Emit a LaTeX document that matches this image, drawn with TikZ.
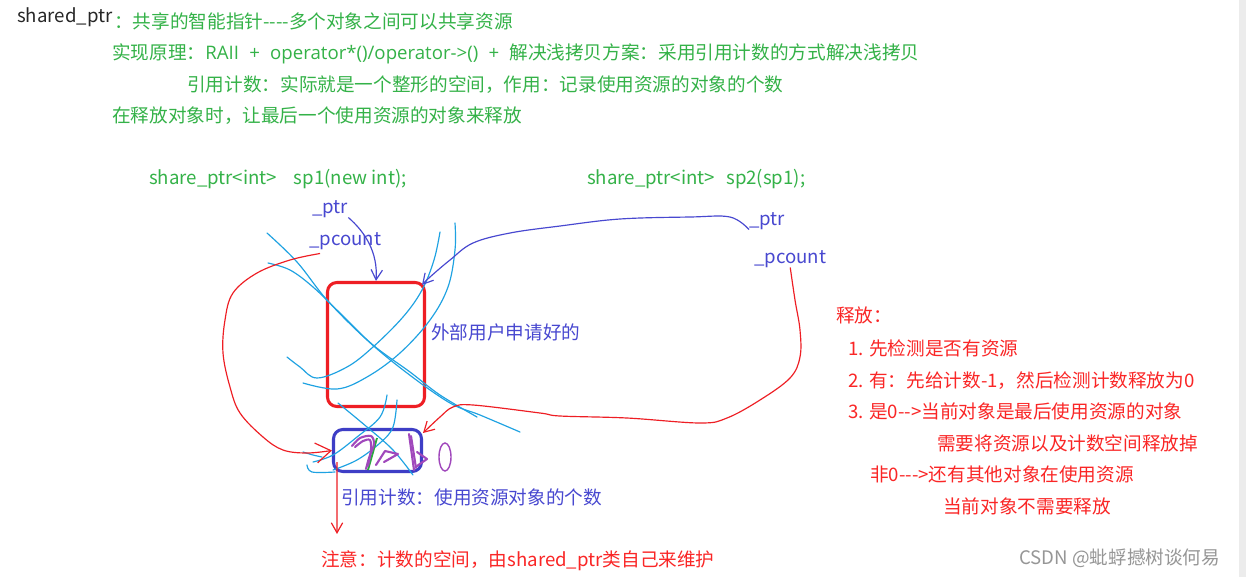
\documentclass[tikz,border=0pt]{standalone}
\usepackage{fontspec}
\usepackage{tikz}
\usetikzlibrary{arrows.meta}
\newfontfamily\cjk{Noto Sans CJK SC}
\newfontfamily\lat{Open Sans}
\definecolor{notegreen}{RGB}{52,178,72}
\definecolor{noteblue}{RGB}{72,72,208}
\definecolor{notered}{RGB}{250,38,38}
\definecolor{penred}{RGB}{238,30,36}
\definecolor{penblue}{RGB}{62,62,198}
\definecolor{pencyan}{RGB}{30,162,226}
\definecolor{penpurple}{RGB}{160,72,188}
\definecolor{pengreen}{RGB}{40,170,60}
\definecolor{markgray}{RGB}{150,150,150}
\definecolor{stripgray}{RGB}{236,236,236}
\newcommand{\gap}{\hspace{0.55em}}

\begin{document}
\begin{tikzpicture}[
        x=0.03cm, y=-0.03cm,
        txt/.style={anchor=base west, inner sep=0pt, font=\cjk\fontsize{15.9}{19}\selectfont},
        gtxt/.style={txt, text=notegreen},
        btxt/.style={txt, text=noteblue},
        rtxt/.style={txt, text=notered},
        heapbox/.style={draw=penred, line width=2.6pt, rounded corners=8pt, minimum width=2.91cm, minimum height=3.72cm},
        countbox/.style={draw=penblue, line width=2.6pt, rounded corners=8pt, minimum width=2.64cm, minimum height=1.26cm},
        scrib/.style={pencyan, line width=1pt, line cap=round},
        purp/.style={penpurple, line width=1.8pt, line cap=round, line join=round},
        barr/.style={noteblue, line width=1pt, -{Straight Barb[length=3mm,width=3.4mm]}},
        rarr/.style={penred, line width=1pt, -{Straight Barb[length=3mm,width=3.4mm]}},
        rarrbig/.style={penred, line width=1pt, -{Straight Barb[length=4.5mm,width=6mm]}}
    ]
    \useasboundingbox (0,0) rectangle (1246,577);
    \fill[white] (0,0) rectangle (1246,577);
    \fill[stripgray] (1239,0) rectangle (1246,577);

    % header notes
    \node[txt, text=black!85] (title) at (17,22) {shared\_ptr};
    \node[gtxt] (intro) at (114,28) {：共享的智能指针----多个对象之间可以共享资源};
    \node[gtxt] (principle) at (112,59) {实现原理：{\lat RAII\gap+\gap operator*()/operator->()\gap+\gap}解决浅拷贝方案：采用引用计数的方式解决浅拷贝};
    \node[gtxt] (refcount) at (187,91) {引用计数：实际就是一个整形的空间，作用：记录使用资源的对象的个数};
    \node[gtxt] (release) at (112,122) {在释放对象时，让最后一个使用资源的对象来释放};

    % the two objects
    \node[gtxt] (sp1) at (149,184) {share\_ptr<int>\hspace{0.9em}sp1(new int);};
    \node[gtxt] (sp2) at (587,184) {share\_ptr<int>\hspace{0.6em}sp2(sp1);};
    \node[btxt] (ptr1) at (312,213) {\_ptr};
    \node[btxt] (pcount1) at (309,245) {\_pcount};
    \node[btxt] (ptr2) at (749,225) {\_ptr};
    \node[btxt] (pcount2) at (754,263) {\_pcount};

    % resource and counter
    \node[heapbox] (heap) at (376,344.5) {};
    \node[btxt] (userres) at (431,339) {外部用户申请好的};
    \node[countbox] (count) at (377.5,450.5) {};
    \node[btxt] (countnote) at (341,504) {引用计数：使用资源对象的个数};
    \node[rtxt] (note) at (321,566) {注意：计数的空间，由shared\_ptr类自己来维护};

    % release steps
    \node[rtxt] (free) at (836,322) {释放：};
    \node[rtxt] (step1) at (848,355) {1. 先检测是否有资源};
    \node[rtxt] (step2) at (848,387) {2. 有：先给计数-1，然后检测计数释放为0};
    \node[rtxt] (step3) at (848,418) {3. 是0-->当前对象是最后使用资源的对象};
    \node[rtxt] (step3a) at (937,450) {需要将资源以及计数空间释放掉};
    \node[rtxt] (step3b) at (870,481) {非0--->还有其他对象在使用资源};
    \node[rtxt] (step3c) at (943,513) {当前对象不需要释放};
    \node[txt, text=markgray] (mark) at (1019,564) {CSDN @蚍蜉撼树谈何易};

    % crossed out by hand
    \draw[scrib] plot[smooth, tension=0.6] coordinates {(267,233) (297,262) (327,300) (367,340) (407,373) (450,403) (480,415) (520,432)};
    \draw[scrib] plot[smooth, tension=0.6] coordinates {(268,263) (290,270) (313,287) (340,313) (373,345) (410,372) (440,395) (477,417)};
    \draw[scrib] plot[smooth, tension=0.6] coordinates {(440,232) (434,260) (422,290) (403,317) (373,347) (347,367) (317,378) (300,367) (287,357)};
    \draw[scrib] plot[smooth, tension=0.6] coordinates {(455,223) (455,250) (448,287) (430,320) (400,353) (367,377) (337,389) (303,383)};
    \draw[scrib] plot[smooth, tension=0.6] coordinates {(338,403) (367,427) (393,450) (413,475)};
    \draw[scrib] plot[smooth, tension=0.6] coordinates {(387,395) (380,417) (357,437) (333,455) (313,462)};
    \draw[scrib] plot[smooth, tension=0.6] coordinates {(397,400) (393,427) (380,443) (357,460) (333,470)};
    \draw[scrib] plot[smooth, tension=0.6] coordinates {(303,452) (313,455) (322,457)};
    \draw[scrib] plot[smooth, tension=0.6] coordinates {(307,465) (312,472) (335,472)};

    % 2 -> 1 -> 0
    \draw[pengreen, line width=1.6pt] (377,438) -- (368,470);
    \draw[purp] plot[smooth, tension=0.5] coordinates {(352,446) (360,438) (371,436) (374,444) (369,458) (366,469)};
    \draw[purp] plot[smooth, tension=0.5] coordinates {(355,447) (363,441) (370,440) (371,450) (368,466)};
    \draw[purp] (376,465) -- (385,451) -- (398,454) -- (384,462);
    \draw[purp] (409,434) -- (414,470);
    \draw[purp] (411,436) -- (416,468);
    \draw[purp] (417,452) -- (427,459) -- (417,466);
    \draw[penpurple, line width=1.2pt] (445,457) ellipse [x radius=0.18cm, y radius=0.42cm];

    % pointers
    \coordinate (heapne) at ([shift={(-4,4)}]heap.north east);
    \coordinate (countne) at ([shift={(0,5)}]count.north east);
    \coordinate (pc1tail) at ([shift={(11,4)}]pcount1.south west);
    \draw[barr] (ptr1.south east) .. controls (365,232) and (378,252) .. (heap.north);
    \draw[barr] plot[smooth, tension=0.6] coordinates {(ptr2.south west) (730,217) (690,217) (620,219) (560,226) (510,233) (473,243) (450,260) (430,277) (heapne)};
    \draw[rarr] plot[smooth, tension=0.6] coordinates {(pcount2.south) (795,300) (800,330) (800,357) (790,378) (760,400) (727,418) (700,423) (627,418) (560,416) (540,413) (473,405) (453,407) (440,417) (countne)};
    \draw[rarrbig] plot[smooth, tension=0.6] coordinates {(pc1tail) (290,260) (257,273) (233,293) (225,320) (223,353) (230,387) (240,413) (263,437) (283,450) (307,453) (count.west)};
    \draw[rarr] ([shift={(5,-11)}]count.south west) -- ([shift={(16,-16)}]note.north west);
\end{tikzpicture}
\end{document}
